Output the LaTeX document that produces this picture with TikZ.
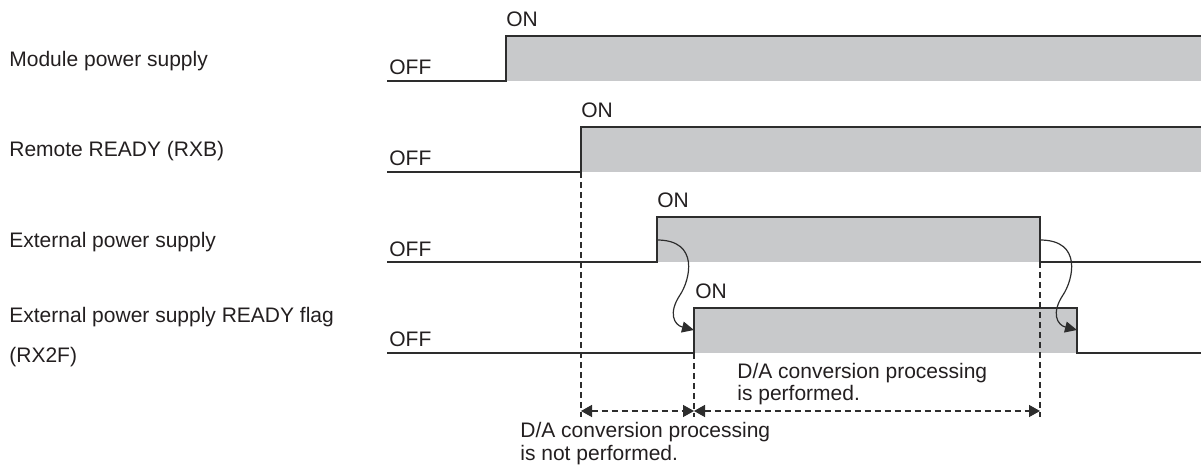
\documentclass[tikz,border=0pt]{standalone}
\usepackage{fontspec}
\setmainfont{Liberation Sans}
\usetikzlibrary{arrows.meta}
\definecolor{sigfill}{RGB}{200,201,203}
\definecolor{sigline}{RGB}{45,45,45}
\definecolor{txt}{RGB}{35,31,32}

\begin{document}
\begin{tikzpicture}[x=0.5pt, y=-0.5pt,
    every node/.style={inner sep=0pt, text=txt, font=\fontsize{10.5}{11.5}\selectfont},
    wave/.style={draw=sigline, line width=0.8pt},
    cause/.style={draw=sigline, line width=0.6pt, -{Triangle[length=6pt,width=5.5pt]}},
    guide/.style={draw=sigline, line width=0.7pt, dash pattern=on 3pt off 2pt},
    span/.style={draw=sigline, line width=0.7pt, dash pattern=on 3pt off 2pt,
        {Triangle[length=5.5pt,width=6pt]}-{Triangle[length=5.5pt,width=6pt]}},
]
    \useasboundingbox (0,0) rectangle (1201,470);

    % module power supply
    \coordinate (M0) at (387,81);
    \coordinate (M1) at (506,81);
    \coordinate (M2) at (506,36);
    \coordinate (M3) at (1201,36);
    % remote READY
    \coordinate (R0) at (387,172);
    \coordinate (R1) at (581,172);
    \coordinate (R2) at (581,127);
    \coordinate (R3) at (1201,127);
    % external power supply
    \coordinate (X0) at (387,262);
    \coordinate (X1) at (657,262);
    \coordinate (X2) at (657,217);
    \coordinate (X3) at (1040,217);
    \coordinate (X4) at (1040,262);
    \coordinate (X5) at (1201,262);
    % READY flag
    \coordinate (F0) at (387,353);
    \coordinate (F1) at (694,353);
    \coordinate (F2) at (694,308);
    \coordinate (F3) at (1077,308);
    \coordinate (F4) at (1077,353);
    \coordinate (F5) at (1201,353);

    \fill[sigfill] (M1) rectangle (M3);
    \fill[sigfill] (R1) rectangle (R3);
    \fill[sigfill] (X1) rectangle (X3);
    \fill[sigfill] (F1) rectangle (F3);

    \draw[wave] (M0) -- (M1) -- (M2) -- (M3);
    \draw[wave] (R0) -- (R1) -- (R2) -- (R3);
    \draw[wave] (X0) -- (X1) -- (X2) -- (X3) -- (X4) -- (X5);
    \draw[wave] (F0) -- (F1) -- (F2) -- (F3) -- (F4) -- (F5);

    \node[anchor=base west] (lmod) at (9,67) {Module power supply};
    \node[anchor=base west] (lrxb) at (9,157) {Remote READY (RXB)};
    \node[anchor=base west] (lext) at (9,248) {External power supply};
    \node[anchor=base west] (lflag) at (9,323) {External power supply READY flag};
    \node[anchor=base west] (lrx2f) at (9,363) {(RX2F)};

    \node[anchor=base west] (off1) at (389,75) {OFF};
    \node[anchor=base west] (off2) at (389,166) {OFF};
    \node[anchor=base west] (off3) at (389,257) {OFF};
    \node[anchor=base west] (off4) at (389,347) {OFF};
    \node[anchor=base west] (on1) at (506,27) {ON};
    \node[anchor=base west] (on2) at (581,118) {ON};
    \node[anchor=base west] (on3) at (657,208) {ON};
    \node[anchor=base west] (on4) at (695,299) {ON};

    % external supply -> flag
    \coordinate (u1) at (657,240);
    \coordinate (k1) at (680,295);
    \coordinate (v1) at (694,330);
    \coordinate (u2) at (1040,240);
    \coordinate (k2) at (1063,295);
    \coordinate (v2) at (1077,330);
    \draw[cause] (u1) .. controls (700,240) and (690,280) .. (k1)
        .. controls (668,313) and (674,325) .. (v1);
    \draw[cause] (u2) .. controls (1083,240) and (1073,280) .. (k2)
        .. controls (1051,313) and (1057,325) .. (v2);

    % processing spans
    \coordinate (g1) at (581,417);
    \coordinate (g2) at (694,417);
    \coordinate (g3) at (1040,417);
    \draw[guide] (R1) -- (g1);
    \draw[guide] (F1) -- (g2);
    \draw[guide] (X4) -- (g3);
    \coordinate (a1) at (581,411);
    \coordinate (a2) at (694,411);
    \coordinate (a3) at (1040,411);
    \draw[span] (a1) -- (a2);
    \draw[span] (a2) -- (a3);

    % base = last line
    \node[anchor=base west, align=left] (done) at (737,401) {D/A conversion processing\\is performed.};
    \node[anchor=base west, align=left] (notdone) at (520,461) {D/A conversion processing\\is not performed.};
\end{tikzpicture}
\end{document}
